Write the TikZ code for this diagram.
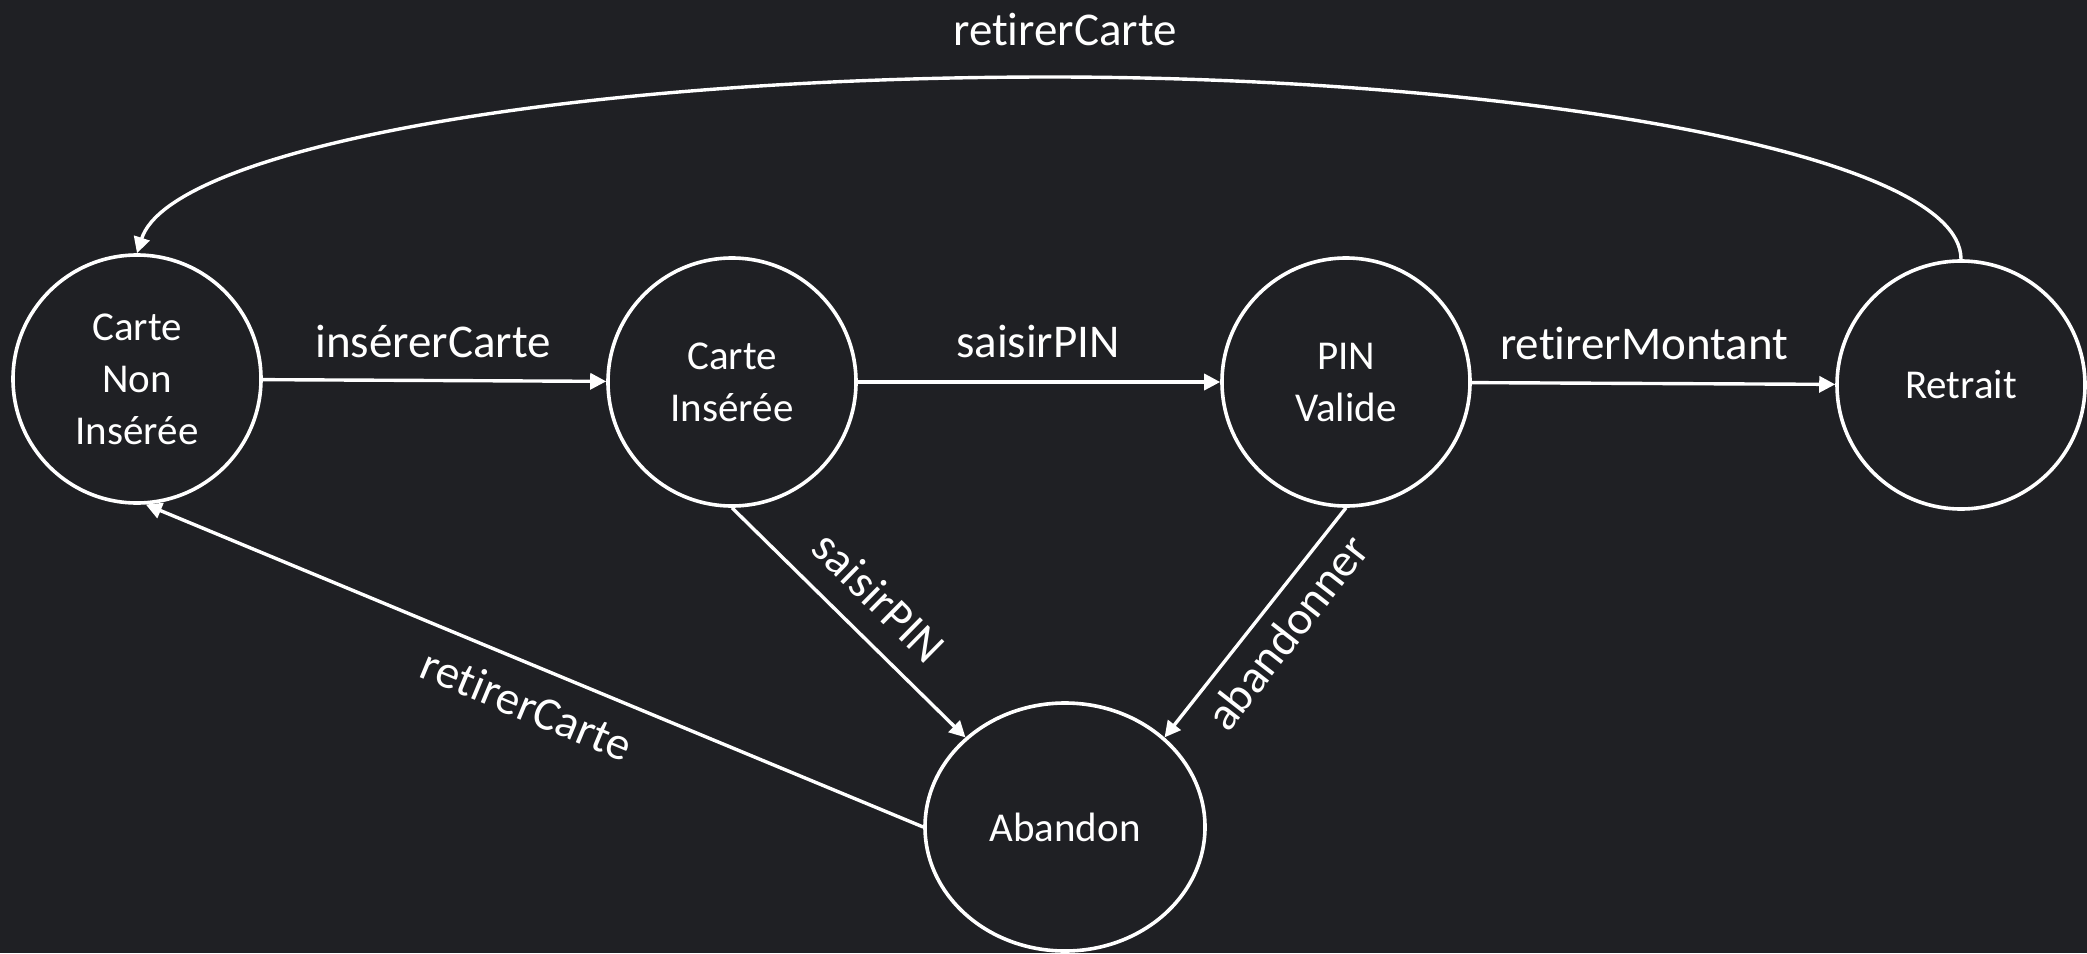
\documentclass[tikz,border=0pt]{standalone}
\usepackage{fontspec}
\setmainfont{Carlito}[Ligatures=NoCommon]
\usetikzlibrary{arrows.meta,shapes.geometric}
\definecolor{bg}{RGB}{31,32,36}
\begin{document}
\begin{tikzpicture}[x=1pt,y=-1pt,
  stnode/.style={circle,draw=white,line width=3.6pt,minimum size=248pt,inner sep=0pt,text=white,align=center,font=\fontsize{41}{52}\selectfont},
  arr/.style={draw=white,line width=3.4pt,-{Triangle[length=16pt,width=16pt]}},
  lbl/.style={text=white,font=\fontsize{47}{56}\selectfont,inner sep=0pt}]
\fill[bg] (0,0) rectangle (2087,953);
\useasboundingbox (0,0) rectangle (2087,953);
\node[stnode] (CNI) at (137,379) {Carte\\Non\\Insérée};
\node[stnode] (CI) at (732,382) {Carte\\Insérée};
\node[stnode] (PV) at (1346,382) {PIN\\Valide};
\node[stnode] (R) at (1961,385) {Retrait};
\node[stnode,ellipse,minimum width=280pt,minimum height=248pt] (A) at (1065,827) {Abandon};
\coordinate (top) at (1051,77);
\draw[arr] (CNI) -- (CI) node[lbl] at (433,341) {insérerCarte};
\draw[arr] (CI) -- (PV) node[lbl] at (1038,341) {saisirPIN};
\draw[arr] (PV) -- (R) node[lbl] at (1644,343) {retirerMontant};
\draw[arr] (CI.south) -- (A.138) node[lbl,rotate=-44.6] at (879,597) {saisirPIN};
\draw[arr] (PV.south) -- (A.42) node[lbl,rotate=52] at (1287,632) {abandonner};
\draw[arr] (A.west) -- (CNI.-86) node[lbl,rotate=-22.6] at (527,705) {retirerCarte};
\draw[arr] (R.north) .. controls (1961,150) and (1500,77) .. (top) .. controls (560,77) and (170,150) .. (CNI.north) node[lbl] at (1065,30) {retirerCarte};
\end{tikzpicture}
\end{document}
